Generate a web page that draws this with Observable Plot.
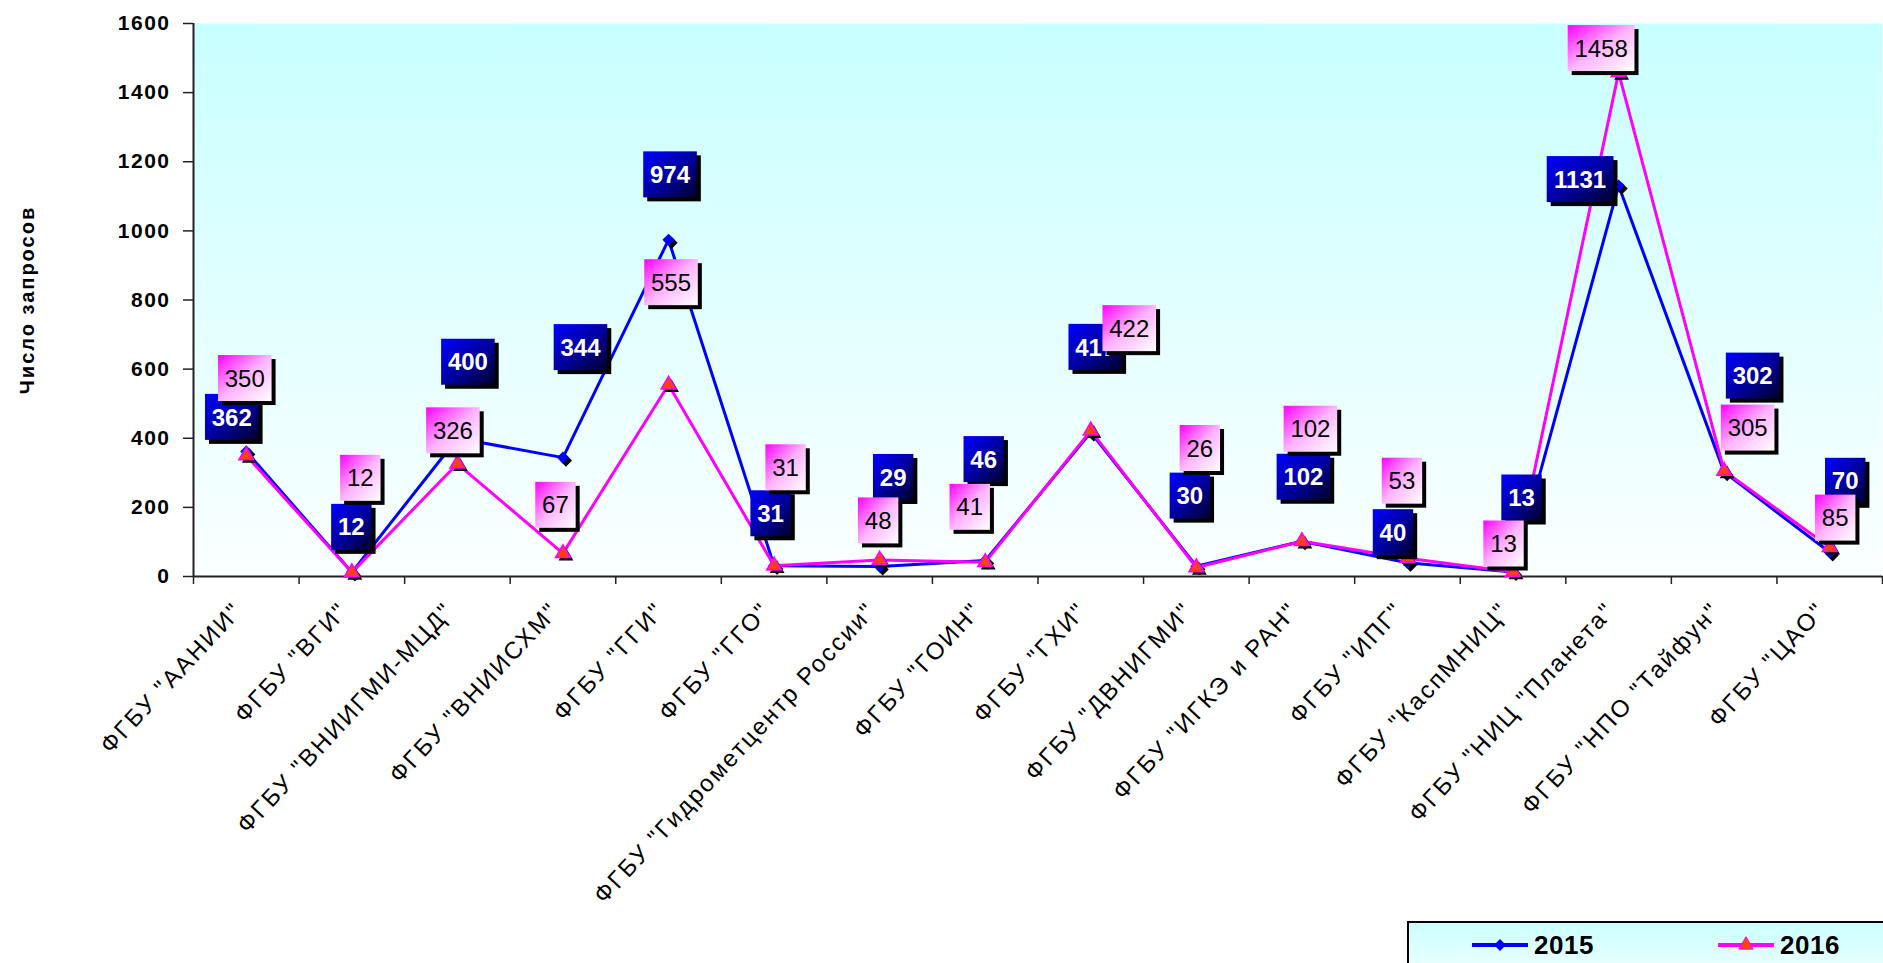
<!DOCTYPE html>
<html><head><meta charset="utf-8">
<script src="https://cdn.jsdelivr.net/npm/d3@7"></script>
<script src="https://cdn.jsdelivr.net/npm/@observablehq/plot@0.6"></script>
<style>
html,body{margin:0;padding:0;background:#fff;overflow:hidden;width:1883px;height:963px;font-family:"Liberation Sans",Arial,sans-serif;}
#chart{position:absolute;left:0;top:0;}
#legend{position:absolute;left:1407px;top:921px;width:480px;height:60px;box-sizing:border-box;border:2px solid #000;background:linear-gradient(#ccffff,#f0ffff);}
#legend .sw{position:absolute;top:12px;}
#legend .lt{position:absolute;top:7px;font-size:26px;font-weight:bold;color:#000;letter-spacing:0.5px;}
</style></head><body>
<div id="chart"></div>
<div id="legend"></div>
<script>
const categories = [
  'ФГБУ "ААНИИ"', 'ФГБУ "ВГИ"', 'ФГБУ "ВНИИГМИ-МЦД"', 'ФГБУ "ВНИИСХМ"', 'ФГБУ "ГГИ"',
  'ФГБУ "ГГО"', 'ФГБУ "Гидрометцентр России"', 'ФГБУ "ГОИН"', 'ФГБУ "ГХИ"', 'ФГБУ "ДВНИГМИ"',
  'ФГБУ "ИГКЭ и РАН"', 'ФГБУ "ИПГ"', 'ФГБУ "КаспМНИЦ"', 'ФГБУ "НИЦ "Планета"', 'ФГБУ "НПО "Тайфун"', 'ФГБУ "ЦАО"'
];
const values2015 = [362, 12, 400, 344, 974, 31, 29, 46, 417, 30, 102, 40, 13, 1131, 302, 70];
const values2016 = [350, 12, 326, 67, 555, 31, 48, 41, 422, 26, 102, 53, 13, 1458, 305, 85];
const seriesNames = ["2015", "2016"];
const yTicks = [0, 200, 400, 600, 800, 1000, 1200, 1400, 1600];
const yTitle = "Число запросов";
// label box placement (pixel shift of each value label from its point)
const labelShift2015 = [[-14,-34],[0,-45],[11,-76],[18,-110],[2,-65],[-3,-52],[14,-89],[-1,-101],[5,-85],[-6,-70],[2,-64],[-14,-30],[9,-74],[-38,-6],[29,-96],[16,-71]];
const labelShift2016 = [[-1,-77],[9,-94],[-4,-33],[-7,-48],[3,-102],[12,-98],[-1,-39],[-15,-55],[39,-102],[4,-119],[9,-112],[-5,-77],[-9,-28],[-17,-24],[24,-43],[6,-29]];

const idx = categories.map((_, i) => i);
const boundaries = d3.range(categories.length + 1).map(i => i - 0.5);
const rows2015 = idx.map(i => ({i, v: values2015[i]}));
const rows2016 = idx.map(i => ({i, v: values2016[i]}));
const FONT = '"Liberation Sans", Arial, sans-serif';

const plot = Plot.plot({
  width: 1883, height: 918,
  marginLeft: 193, marginRight: 1, marginTop: 23, marginBottom: 342,
  x: {domain: [-0.5, categories.length - 0.5], label: null},
  y: {domain: [0, 1600], label: null},
  style: {fontFamily: FONT, background: "transparent", overflow: "visible", color: "#000"},
  marks: [
    Plot.frame({fill: "url(#bgGrad)", stroke: "none"}),
    Plot.axisY({ticks: yTicks, tickSize: 10, tickPadding: 13, tickFormat: d => String(d), fontSize: 21, fontWeight: "bold", label: null, stroke: "#222", strokeWidth: 1.5}),
    Plot.axisX({ticks: boundaries, tickSize: 8, tickFormat: () => "", label: null, stroke: "#222", strokeWidth: 1.5}),
    Plot.axisX({ticks: idx, tickSize: 0, tickPadding: 30, dx: -8, tickRotate: -47, tickFormat: i => categories[i], fontSize: 24, label: null}),
    Plot.ruleX([-0.5], {stroke: "#222", strokeWidth: 2}),
    Plot.ruleY([0], {stroke: "#222", strokeWidth: 2}),
    Plot.text([yTitle], {frameAnchor: "left", textAnchor: "middle", dx: -166, rotate: -90, fontSize: 20, fontWeight: "bold"}),
    Plot.line(rows2015, {x: "i", y: "v", stroke: "#0000ff", strokeWidth: 3}),
    Plot.dot(rows2015, {x: "i", y: "v", symbol: "diamond2", r: 5.5, fill: "#000", stroke: "none", dx: 3, dy: 3}),
    Plot.dot(rows2015, {x: "i", y: "v", symbol: "diamond2", r: 5.5, fill: "#0000ff", stroke: "none"}),
    Plot.line(rows2016, {x: "i", y: "v", stroke: "#ff00ff", strokeWidth: 3}),
    Plot.dot(rows2016, {x: "i", y: "v", symbol: "triangle", r: 5.5, fill: "#000", stroke: "none", dx: 3, dy: 3}),
    Plot.dot(rows2016, {x: "i", y: "v", symbol: "triangle", r: 5.5, fill: "#ff4010", stroke: "#ff00ff", strokeWidth: 1.5})
  ]
});
document.getElementById("chart").appendChild(plot);

const svg = d3.select(plot);
svg.selectAll('g[aria-label="x-axis tick label"] text').attr("letter-spacing", "2.2px");
svg.selectAll('g[aria-label="y-axis tick label"] text').attr("letter-spacing", "1.5px");
svg.selectAll('g[aria-label="text"] text').attr("letter-spacing", "2px");

const defs = svg.insert("defs", ":first-child");
const bg = defs.append("linearGradient").attr("id", "bgGrad").attr("x1", 0).attr("y1", 0).attr("x2", 0).attr("y2", 1);
bg.append("stop").attr("offset", 0).attr("stop-color", "#c8ffff");
bg.append("stop").attr("offset", 1).attr("stop-color", "#fbffff");
const gb = defs.append("linearGradient").attr("id", "blueBox").attr("x1", 0).attr("y1", 0).attr("x2", 1).attr("y2", 1);
gb.append("stop").attr("offset", 0).attr("stop-color", "#0000ff");
gb.append("stop").attr("offset", 0.55).attr("stop-color", "#00009a");
gb.append("stop").attr("offset", 1).attr("stop-color", "#000028");
const gp = defs.append("linearGradient").attr("id", "pinkBox").attr("x1", 0).attr("y1", 0).attr("x2", 1).attr("y2", 1);
gp.append("stop").attr("offset", 0).attr("stop-color", "#ff00ff");
gp.append("stop").attr("offset", 0.5).attr("stop-color", "#ffb4ff");
gp.append("stop").attr("offset", 1).attr("stop-color", "#ffffff");

const xs = plot.scale("x"), ys = plot.scale("y");
function drawLabels(values, shifts, fill, textColor, weight, size) {
  const g = svg.append("g").attr("aria-label", "value labels");
  values.forEach((v, i) => {
    const cx = xs.apply(i) + shifts[i][0];
    const cy = ys.apply(v) + shifts[i][1];
    const s = String(v);
    const w = s.length * 13.2 + 14, h = 46;
    g.append("rect").attr("x", cx - w / 2 + 4).attr("y", cy - h / 2 + 4).attr("width", w).attr("height", h).attr("fill", "#000");
    g.append("rect").attr("x", cx - w / 2).attr("y", cy - h / 2).attr("width", w).attr("height", h).attr("fill", fill);
    g.append("text").attr("x", cx).attr("y", cy).attr("dy", "0.36em").attr("text-anchor", "middle")
      .attr("font-size", size).attr("font-weight", weight).attr("fill", textColor).attr("font-family", FONT).text(s);
  });
}
drawLabels(values2015, labelShift2015, "url(#blueBox)", "#fff", "bold", 24);
drawLabels(values2016, labelShift2016, "url(#pinkBox)", "#000", "normal", 24);

// legend
const legend = d3.select("#legend");
const items = [
  {name: seriesNames[0], color: "#0000ff", sym: d3.symbolDiamond2, mfill: "#0000ff", mstroke: "none", sx: 63, tx: 125},
  {name: seriesNames[1], color: "#ff00ff", sym: d3.symbolTriangle, mfill: "#ff4010", mstroke: "#ff00ff", sx: 309, tx: 371}
];
items.forEach(it => {
  const s = legend.append("svg").attr("class", "sw").attr("width", 56).attr("height", 20).style("left", it.sx + "px");
  s.append("line").attr("x1", 0).attr("x2", 56).attr("y1", 10).attr("y2", 10).attr("stroke", it.color).attr("stroke-width", 4);
  s.append("path").attr("transform", "translate(28,10)").attr("d", d3.symbol(it.sym, 90)()).attr("fill", it.mfill).attr("stroke", it.mstroke);
  legend.append("div").attr("class", "lt").style("left", it.tx + "px").text(it.name);
});
</script>
</body></html>
